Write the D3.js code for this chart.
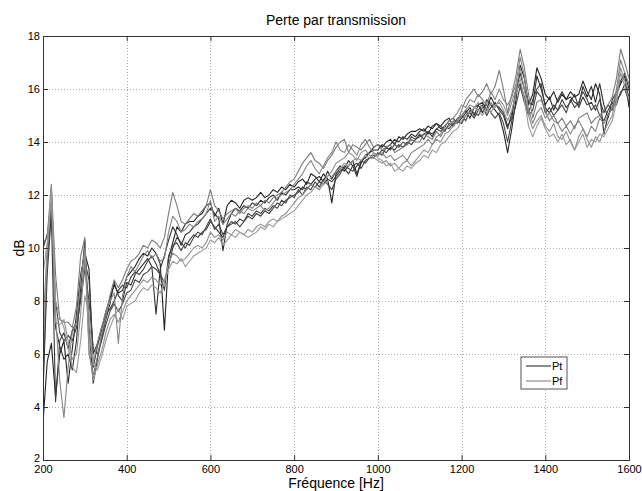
<!DOCTYPE html>
<html>
<head>
<meta charset="utf-8">
<script src="https://cdn.jsdelivr.net/npm/d3@7"></script>
<style>
  html, body { margin: 0; padding: 0; background: #fff; }
  svg { display: block; }
  text { font-family: "Liberation Sans", Arial, Helvetica, sans-serif; fill: #000; }
</style>
</head>
<body>
<svg id="chart" width="642" height="491"></svg>
<script>
// Frequency axis (Hz), 10 Hz steps from 200 to 1600
const freq = [
  200,210,220,230,240,250,260,270,280,290,
  300,310,320,330,340,350,360,370,380,390,
  400,410,420,430,440,450,460,470,480,490,
  500,510,520,530,540,550,560,570,580,590,
  600,610,620,630,640,650,660,670,680,690,
  700,710,720,730,740,750,760,770,780,790,
  800,810,820,830,840,850,860,870,880,890,
  900,910,920,930,940,950,960,970,980,990,
  1000,1010,1020,1030,1040,1050,1060,1070,1080,1090,
  1100,1110,1120,1130,1140,1150,1160,1170,1180,1190,
  1200,1210,1220,1230,1240,1250,1260,1270,1280,1290,
  1300,1310,1320,1330,1340,1350,1360,1370,1380,1390,
  1400,1410,1420,1430,1440,1450,1460,1470,1480,1490,
  1500,1510,1520,1530,1540,1550,1560,1570,1580,1590,
  1600
];

// Transmission loss (dB), Pt measurements
const pt1 = [
  3.4,5.7,6.4,4.4,6.0,6.5,4.9,6.2,7.5,9.0,
  9.8,9.2,5.5,6.3,6.9,7.6,8.1,8.6,8.3,8.4,
  8.9,9.1,9.3,9.6,9.8,9.7,10.0,9.8,9.4,6.9,
  9.6,10.2,10.8,10.6,10.9,11.0,11.0,11.2,11.3,11.6,
  11.7,11.2,11.5,10.9,11.6,11.8,11.7,11.5,11.8,11.9,
  11.8,11.9,12.1,11.9,12.0,12.2,12.1,12.3,12.2,12.4,
  12.3,12.5,12.6,12.4,12.8,12.7,12.5,12.8,12.6,11.7,
  12.8,13.0,12.9,13.1,13.3,12.8,13.2,13.5,13.6,13.8,
  13.9,13.8,14.0,14.1,13.9,14.2,14.1,14.3,14.4,14.4,
  14.5,14.4,14.6,14.5,14.7,14.6,14.8,14.9,14.6,14.8,
  15.0,15.2,14.9,15.3,15.4,15.1,15.6,15.4,15.2,15.0,
  14.4,13.6,14.5,15.6,16.9,16.4,15.4,15.8,16.8,16.4,
  15.8,15.6,15.9,15.5,15.8,15.6,15.9,15.7,15.8,16.3,
  15.9,15.6,16.2,15.8,14.3,15.0,15.3,15.8,16.2,16.5,
  15.3
];
const pt2 = [
  10.0,10.5,11.6,7.0,6.3,5.8,6.0,5.4,6.5,8.5,
  10.3,7.0,4.9,5.8,6.6,7.3,7.9,8.7,8.2,8.0,
  8.7,8.6,9.0,9.2,9.4,9.6,9.3,7.5,9.2,9.7,
  10.3,10.8,10.5,10.1,10.5,10.6,10.8,10.9,11.1,11.3,
  11.5,11.3,11.1,9.9,10.9,11.3,11.5,11.4,11.6,11.5,
  11.7,11.6,11.8,11.7,11.9,12.0,11.8,12.1,12.0,12.2,
  12.2,12.3,12.2,12.5,12.4,12.6,12.7,12.5,12.9,12.6,
  12.9,13.1,13.0,13.3,13.1,12.7,13.3,13.4,13.6,13.7,
  13.7,13.9,13.8,13.9,14.1,14.0,14.2,14.1,14.3,14.2,
  14.4,14.5,14.3,14.6,14.7,14.5,14.6,14.8,14.9,14.7,
  14.9,15.1,15.3,15.0,15.4,15.5,15.2,15.7,15.4,15.3,
  15.1,14.6,14.9,16.0,16.6,16.0,15.5,15.4,16.5,16.0,
  15.4,15.7,15.2,15.6,15.9,15.6,15.7,15.5,15.4,16.1,
  15.7,16.1,15.5,16.2,15.4,14.9,15.6,15.9,16.3,16.6,
  16.0
];
const pt3 = [
  4.5,9.0,11.3,4.2,6.5,6.8,6.2,6.9,7.2,8.1,
  9.5,8.8,6.0,6.4,7.0,7.5,7.7,8.0,8.4,8.6,
  8.5,8.9,9.1,9.0,9.2,9.5,9.7,9.4,9.0,8.7,
  9.3,10.0,10.4,10.2,10.0,10.3,10.5,10.4,10.6,10.7,
  11.0,10.8,10.6,10.4,10.8,10.9,11.0,10.8,11.0,11.2,
  11.1,11.3,11.2,11.4,11.3,11.5,11.7,11.6,11.8,11.9,
  12.0,12.1,12.3,12.2,12.4,12.3,12.5,12.4,12.6,12.5,
  12.7,12.9,13.0,12.8,13.1,13.2,13.0,13.3,13.4,13.5,
  13.5,13.7,13.6,13.8,13.7,13.9,13.8,14.0,13.9,14.1,
  14.2,14.3,14.4,14.2,14.5,14.4,14.6,14.5,14.7,14.8,
  14.7,15.0,15.1,14.9,15.2,15.4,15.0,15.3,15.5,15.2,
  15.0,14.5,15.1,15.9,16.2,15.7,15.1,15.6,16.0,16.2,
  15.3,15.1,15.4,15.2,15.6,15.3,15.5,15.8,15.3,15.7,
  15.4,15.5,15.2,15.6,15.1,15.4,15.2,15.6,15.8,16.2,
  15.7
];
const pt4 = [
  5.0,9.5,11.5,8.0,6.8,6.5,6.7,6.5,7.0,8.0,
  9.2,8.0,6.2,6.0,6.5,7.1,7.6,7.9,7.6,7.9,
  8.3,8.4,8.8,8.7,9.0,9.1,9.3,9.2,9.0,8.4,
  9.7,10.1,10.2,9.9,10.2,10.1,10.4,10.6,10.5,10.8,
  11.1,10.7,10.9,10.5,10.8,11.0,10.9,11.1,11.0,11.3,
  11.2,11.4,11.3,11.5,11.4,11.6,11.5,11.8,11.7,12.0,
  11.9,12.2,12.0,12.3,12.2,12.5,12.3,12.6,12.4,12.2,
  12.6,12.8,13.1,13.0,12.9,13.1,13.3,13.2,13.4,13.4,
  13.6,13.5,13.8,13.7,13.9,13.8,14.0,13.9,14.2,14.1,
  14.3,14.1,14.4,14.3,14.5,14.6,14.4,14.7,14.6,14.9,
  15.0,14.8,15.2,15.1,15.0,15.3,15.4,15.1,14.9,15.1,
  14.7,14.0,14.8,15.4,16.1,15.5,15.0,15.2,15.9,15.7,
  15.1,15.3,15.0,15.2,15.4,15.1,15.6,15.3,15.5,15.9,
  15.6,15.2,15.4,15.0,14.8,15.2,15.5,15.4,15.9,16.0,
  15.5
];

// Transmission loss (dB), Pf measurements
const pf1 = [
  10.2,10.4,12.4,9.0,7.3,7.2,7.2,7.0,7.8,9.7,
  10.4,6.0,5.2,5.9,6.7,7.4,8.2,8.8,8.5,8.8,
  9.2,9.5,9.6,9.8,10.1,10.0,10.3,10.2,10.0,10.4,
  11.3,12.1,11.6,11.0,10.9,11.1,11.3,11.2,11.4,11.6,
  12.2,11.6,11.4,11.1,11.3,11.4,11.5,11.3,11.5,11.6,
  11.5,11.7,11.6,11.8,11.7,11.9,12.0,12.1,12.3,12.5,
  12.6,12.9,13.2,13.4,13.6,13.3,13.2,13.0,13.3,13.5,
  13.8,14.0,14.1,13.6,13.9,13.8,13.7,13.9,14.1,13.8,
  13.9,13.7,13.8,13.9,13.6,13.7,13.8,13.9,14.1,14.0,
  14.0,14.3,14.2,14.1,14.4,14.2,14.5,14.6,14.8,14.7,
  15.2,15.6,15.8,16.0,15.7,15.9,16.2,15.8,16.1,16.7,
  16.0,15.1,15.8,16.5,17.5,16.8,15.8,14.9,15.5,15.6,
  15.2,14.8,15.0,14.7,14.9,14.6,14.8,14.5,14.9,15.0,
  15.1,14.7,14.9,15.0,15.2,15.4,15.7,16.4,17.5,17.0,
  16.4
];
const pf2 = [
  7.0,10.0,12.3,7.5,5.0,3.6,5.5,6.8,7.2,8.8,
  10.0,6.8,5.6,6.4,7.0,7.6,8.0,8.3,6.4,8.2,
  8.9,9.3,9.1,9.4,9.7,9.9,9.6,9.8,9.5,9.6,
  10.6,11.2,11.0,10.6,10.7,10.9,10.8,11.0,11.1,11.3,
  11.8,11.0,11.2,10.9,11.1,11.3,11.2,11.4,11.3,11.5,
  11.4,11.5,11.6,11.4,11.5,11.7,11.9,12.0,12.1,12.2,
  12.4,12.6,12.8,13.1,13.3,13.0,12.8,13.1,13.4,13.6,
  14.0,13.7,13.6,13.9,13.7,13.5,13.9,14.1,13.8,13.6,
  13.5,13.6,13.4,13.5,13.3,13.4,13.5,13.3,13.6,13.7,
  13.8,13.9,14.1,13.9,14.2,14.3,14.6,14.8,14.9,15.1,
  15.4,15.3,15.6,15.5,15.8,15.6,15.4,15.9,15.6,16.0,
  15.6,15.4,15.7,16.2,17.2,16.5,15.2,14.7,15.1,15.3,
  14.9,15.1,14.8,14.7,14.4,14.6,14.3,14.6,14.8,14.5,
  14.2,14.6,14.4,14.9,14.7,15.0,15.3,16.0,17.1,16.6,
  16.2
];
const pf3 = [
  6.0,9.8,12.0,7.2,7.1,7.3,6.5,5.8,6.0,7.5,
  9.8,6.2,5.0,5.6,6.1,6.8,7.3,7.5,7.2,7.6,
  8.0,8.2,8.4,8.6,8.8,8.7,8.9,8.8,8.6,8.8,
  9.4,9.8,9.7,9.5,9.6,9.8,10.0,10.1,10.0,10.2,
  10.6,10.4,10.5,10.3,10.6,10.5,10.7,10.6,10.5,10.7,
  10.6,10.8,10.9,10.8,11.0,11.1,11.0,11.2,11.3,11.5,
  11.7,11.9,12.0,12.2,12.4,12.3,12.2,12.5,12.7,12.9,
  13.2,13.3,13.4,13.6,13.5,13.3,13.6,13.7,13.5,13.4,
  13.3,13.2,13.3,13.1,13.2,13.0,13.2,13.3,13.1,13.3,
  13.5,13.7,13.6,13.9,14.1,14.0,14.3,14.4,14.6,14.8,
  15.0,15.2,15.4,15.3,15.5,15.3,15.1,15.5,15.3,15.6,
  15.4,15.0,15.5,16.0,16.8,16.0,15.0,14.5,14.8,15.0,
  14.6,14.4,14.7,14.2,14.1,14.4,14.0,13.7,14.2,14.5,
  14.1,13.8,14.2,14.0,14.4,14.7,15.0,15.8,16.8,16.3,
  15.9
];
const pf4 = [
  9.0,10.2,12.2,8.0,7.4,7.0,6.2,5.5,5.3,6.5,
  8.2,7.5,5.6,5.4,5.9,6.5,7.0,7.4,7.7,7.3,
  7.8,7.9,8.0,8.3,8.5,8.4,8.6,8.5,8.3,8.7,
  9.2,9.5,9.4,9.6,9.3,9.5,9.7,9.8,9.9,10.0,
  10.3,10.2,10.4,10.1,10.3,10.5,10.4,10.6,10.5,10.4,
  10.5,10.6,10.8,10.7,10.9,10.8,11.0,11.1,11.2,11.3,
  11.4,11.6,11.8,12.0,12.1,12.3,12.2,12.4,12.5,12.7,
  12.9,13.0,13.2,13.1,13.3,13.4,13.3,13.5,13.4,13.6,
  13.4,13.3,13.1,13.2,12.9,13.0,12.9,13.1,13.0,13.2,
  13.3,13.5,13.4,13.7,13.6,13.9,14.0,14.2,14.4,14.5,
  14.8,15.0,15.1,15.3,15.2,15.0,15.3,15.1,15.4,15.5,
  15.2,14.8,15.2,15.8,16.4,15.6,14.6,14.2,14.6,14.9,
  14.5,14.2,14.3,14.0,14.3,13.9,14.1,13.7,14.0,14.3,
  13.8,14.1,14.0,14.3,14.2,14.5,14.8,15.5,16.6,16.1,
  15.6
];

const xTicks = [200, 400, 600, 800, 1000, 1200, 1400, 1600];
const yTicks = [2, 4, 6, 8, 10, 12, 14, 16, 18];
const legendLabels = ["Pt", "Pf"];

const seriesList = [
  { group: "Pt", values: pt1, color: "#222222" },
  { group: "Pt", values: pt2, color: "#2e2e2e" },
  { group: "Pt", values: pt3, color: "#3a3a3a" },
  { group: "Pt", values: pt4, color: "#444444" },
  { group: "Pf", values: pf1, color: "#7a7a7a" },
  { group: "Pf", values: pf2, color: "#858585" },
  { group: "Pf", values: pf3, color: "#8f8f8f" },
  { group: "Pf", values: pf4, color: "#999999" }
];
const legendColors = { Pt: "#2e2e2e", Pf: "#858585" };

const svg = d3.select("#chart");
const W = 642, H = 491;
const margin = { left: 43, right: 13, top: 36, bottom: 31 };
const iw = W - margin.left - margin.right;
const ih = H - margin.top - margin.bottom;

svg.append("rect").attr("width", W).attr("height", H).attr("fill", "#fff");

const x = d3.scaleLinear().domain([200, 1600]).range([0, iw]);
const y = d3.scaleLinear().domain([2, 18]).range([ih, 0]);

const g = svg.append("g").attr("transform", `translate(${margin.left},${margin.top})`);

g.append("rect").attr("width", iw).attr("height", ih).attr("fill", "#fff");

// dotted grid
const grid = g.append("g").attr("class", "grid");
grid.selectAll("line.gx").data(xTicks.slice(1, -1)).join("line")
  .attr("x1", d => Math.round(x(d)) + 0.5).attr("x2", d => Math.round(x(d)) + 0.5)
  .attr("y1", 0).attr("y2", ih)
  .attr("stroke", "#b0b0b0").attr("stroke-width", 1).attr("stroke-dasharray", "1,2");
grid.selectAll("line.gy").data(yTicks.slice(1, -1)).join("line")
  .attr("y1", d => Math.round(y(d)) + 0.5).attr("y2", d => Math.round(y(d)) + 0.5)
  .attr("x1", 0).attr("x2", iw)
  .attr("stroke", "#b0b0b0").attr("stroke-width", 1).attr("stroke-dasharray", "1,2");

// curves
const clipId = "plotclip";
g.append("clipPath").attr("id", clipId).append("rect").attr("width", iw).attr("height", ih);
const line = d3.line().x((d, i) => x(freq[i])).y(d => y(d));
g.append("g").attr("clip-path", `url(#${clipId})`)
  .selectAll("path").data(seriesList).join("path")
  .attr("d", s => line(s.values))
  .attr("fill", "none")
  .attr("stroke", s => s.color)
  .attr("stroke-width", 1.1)
  .attr("stroke-linejoin", "round");

// axes with inward ticks on all four sides
const axisColor = "#333";
const axB = d3.axisBottom(x).tickValues(xTicks).tickSize(-5).tickPadding(5).tickFormat(d3.format("d"));
const axT = d3.axisTop(x).tickValues(xTicks).tickSize(-5).tickFormat("");
const axL = d3.axisLeft(y).tickValues(yTicks).tickSize(-5).tickPadding(3).tickFormat(d3.format("d"));
const axR = d3.axisRight(y).tickValues(yTicks).tickSize(-5).tickFormat("");

function styleAxis(sel) {
  sel.selectAll("path.domain").attr("stroke", axisColor);
  sel.selectAll(".tick line").attr("stroke", axisColor);
  sel.selectAll(".tick text").attr("fill", "#000").style("font-size", "11px")
    .style("font-family", "'Liberation Sans', Arial, sans-serif");
}
g.append("g").attr("transform", `translate(0,${ih})`).call(axB).call(styleAxis);
g.append("g").call(axT).call(styleAxis);
const leftAxis = g.append("g").call(axL).call(styleAxis);
// lift the lowest y label slightly so it clears the first x label
leftAxis.selectAll(".tick text").filter(d => d === yTicks[0]).attr("dy", "0.1em");
g.append("g").attr("transform", `translate(${iw},0)`).call(axR).call(styleAxis);
g.selectAll("path.domain").attr("stroke-width", 1);

// titles
svg.append("text").attr("x", margin.left + iw / 2).attr("y", 25)
  .attr("text-anchor", "middle").style("font-size", "14px").text("Perte par transmission");
svg.append("text").attr("x", margin.left + iw / 2).attr("y", 488)
  .attr("text-anchor", "middle").style("font-size", "14px").text("Fréquence [Hz]");
svg.append("text").attr("transform", `translate(24,${margin.top + ih / 2}) rotate(-90)`)
  .attr("text-anchor", "middle").style("font-size", "14px").text("dB");

// legend
const lg = svg.append("g").attr("transform", "translate(521,357)");
lg.append("rect").attr("width", 46).attr("height", 32)
  .attr("fill", "#fff").attr("stroke", "#555").attr("stroke-width", 1);
lg.selectAll("g.item").data(legendLabels).join("g")
  .attr("transform", (d, i) => `translate(0,${9 + i * 15})`)
  .each(function (d) {
    const it = d3.select(this);
    it.append("line").attr("x1", 5).attr("x2", 30).attr("y1", 0).attr("y2", 0)
      .attr("stroke", legendColors[d]).attr("stroke-width", 1.1);
    it.append("text").attr("x", 31).attr("y", 4).style("font-size", "11px").text(d);
  });
</script>
</body>
</html>
